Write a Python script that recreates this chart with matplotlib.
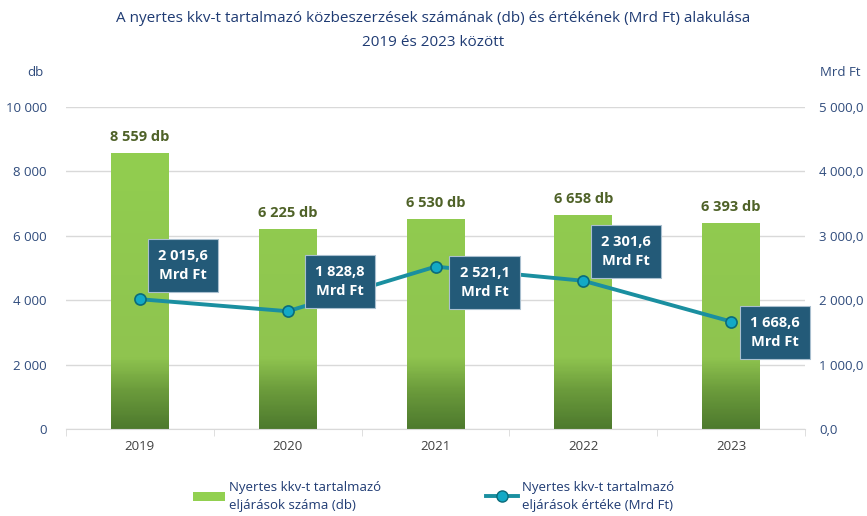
import matplotlib
matplotlib.use("Agg")
import matplotlib.pyplot as plt
import numpy as np
from matplotlib.colors import LinearSegmentedColormap
from matplotlib.patches import Patch
from matplotlib.lines import Line2D

years = ["2019", "2020", "2021", "2022", "2023"]
counts = [8559, 6225, 6530, 6658, 6393]
values = [2015.6, 1828.8, 2521.1, 2301.6, 1668.6]
count_labels = ["8 559 db", "6 225 db", "6 530 db", "6 658 db", "6 393 db"]
value_labels = ["2 015,6\nMrd Ft", "1 828,8\nMrd Ft", "2 521,1\nMrd Ft",
                "2 301,6\nMrd Ft", "1 668,6\nMrd Ft"]
left_ticks = [0, 2000, 4000, 6000, 8000, 10000]
left_ticklabels = ["0", "2 000", "4 000", "6 000", "8 000", "10 000"]
right_ticks = [0, 1000, 2000, 3000, 4000, 5000]
right_ticklabels = ["0,0", "1 000,0", "2 000,0", "3 000,0", "4 000,0", "5 000,0"]

plt.rcParams["font.family"] = ["Open Sans", "DejaVu Sans"]
NAVY = "#1F3B73"
TICK = "#2F4B7C"

fig = plt.figure(figsize=(8.67, 5.16), dpi=100)
ax = fig.add_axes([66 / 867, 1 - 429 / 516, 739 / 867, 322 / 516])
ax2 = ax.twinx()

x = np.arange(len(years))
w = 0.39

# bars with a dark-green fade at the bottom
cmap = LinearSegmentedColormap.from_list(
    "bar", [(0, "#4E7A2E"), (0.12, "#6C9C3C"), (0.22, "#8FC44F"), (1, "#92D050")])
bars = ax.bar(x, counts, w, color="none", edgecolor="none", zorder=2)
for b, h in zip(bars, counts):
    yy = np.linspace(0, h, 200)
    grad = np.clip(yy / 10000, 0, 1)[::-1].reshape(-1, 1)
    im = ax.imshow(grad, cmap=cmap, vmin=0, vmax=1, aspect="auto",
                   extent=(b.get_x(), b.get_x() + w, 0, h), zorder=2)
    im.set_clip_path(b)
ax.set_xlim(-0.5, len(years) - 0.5)
ax.set_ylim(0, 10000)
ax2.set_ylim(0, 5000)

for xi, h, lab in zip(x, counts, count_labels):
    ax.annotate(lab, (xi, h), xytext=(0, 9), textcoords="offset pixels",
                ha="center", va="bottom", fontsize=10.5, fontweight="bold",
                color="#4F6228")

ax.yaxis.grid(True, color="#D9D9D9", lw=1)
ax.set_axisbelow(True)
for s in ["top", "left", "right"]:
    ax.spines[s].set_visible(False)
    ax2.spines[s].set_visible(False)
ax2.spines["bottom"].set_visible(False)
ax.spines["bottom"].set_color("#D9D9D9")

ax.set_xticks(x)
ax.set_xticklabels(years, fontsize=9.5, color="#404040")
ax.set_xticks(np.arange(-0.5, len(years), 1), minor=True)
ax.tick_params(axis="x", which="major", length=0, pad=8)
ax.tick_params(axis="x", which="minor", length=5, color="#D9D9D9")
ax.set_yticks(left_ticks)
ax.set_yticklabels(left_ticklabels, fontsize=9.5, color=TICK)
ax.tick_params(axis="y", length=0, pad=14)
ax2.set_yticks(right_ticks)
ax2.set_yticklabels(right_ticklabels, fontsize=9.5, color=TICK)
ax2.tick_params(axis="y", length=0, pad=10)

ax2.plot(x, values, color="#1A8FA0", lw=2.8, marker="o", markersize=8,
         markerfacecolor="#12A9C6", markeredgecolor="#0B6B7A",
         markeredgewidth=1.2, zorder=4)

offsets = [(43, 34), (52, 30), (49, -16), (43, 29), (44, -11)]
for xi, v, lab, (dx, dy) in zip(x, values, value_labels, offsets):
    ax2.annotate(lab, (xi, v), xytext=(dx, dy), textcoords="offset pixels",
                 ha="center", va="center", fontsize=10.5, fontweight="bold",
                 color="white", linespacing=1.45, zorder=5,
                 bbox=dict(boxstyle="square,pad=0.7", fc="#235A78",
                           ec="#A9BFCF", lw=0.8))

fig.text(0.5, 1 - 18 / 516, "A nyertes kkv-t tartalmazó közbeszerzések számának (db) és értékének (Mrd Ft) alakulása",
         ha="center", va="center", fontsize=11, color=NAVY)
fig.text(0.5, 1 - 43 / 516, "2019 és 2023 között", ha="center", va="center",
         fontsize=11, color=NAVY)
fig.text(35 / 867, 1 - 72 / 516, "db", ha="center", va="center",
         fontsize=9.5, color=TICK)
fig.text(840 / 867, 1 - 72 / 516, "Mrd Ft", ha="center", va="center",
         fontsize=9.5, color=TICK)

handles = [
    Patch(facecolor="#92D050", edgecolor="none",
          label="Nyertes kkv-t tartalmazó\neljárások száma (db)"),
    Line2D([0], [0], color="#1A8FA0", lw=2.8, marker="o", markersize=8,
           markerfacecolor="#12A9C6", markeredgecolor="#0B6B7A",
           label="Nyertes kkv-t tartalmazó\neljárások értéke (Mrd Ft)"),
]
leg = fig.legend(handles=handles, loc="center", bbox_to_anchor=(0.5, 1 - 496 / 516),
                 ncol=2, frameon=False, fontsize=9.5, labelcolor=NAVY,
                 columnspacing=8, handlelength=2.4, handletextpad=0.3)
for t in leg.get_texts():
    t.set_linespacing(1.5)

fig.savefig("out.png", dpi=100)
